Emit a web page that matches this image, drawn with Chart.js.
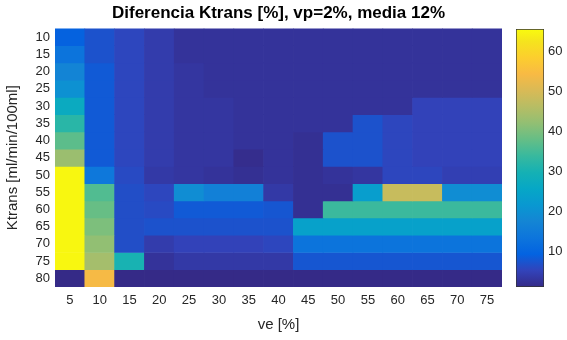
<!DOCTYPE html>
<html>
<head>
<meta charset="utf-8">
<script src="https://cdn.jsdelivr.net/npm/chart.js@4/dist/chart.umd.min.js"></script>
<style>
  body { margin: 0; background: #fff; }
  #wrap { position: relative; width: 567px; height: 340px; }
  #heat { position: absolute; left: 0; top: 0; }
  #bar { position: absolute; left: 510px; top: 0; }
</style>
</head>
<body>
<div id="wrap">
  <canvas id="heat" width="567" height="340"></canvas>
  <canvas id="bar" width="57" height="340"></canvas>
</div>
<script>
// Axis categories
const ve = [5, 10, 15, 20, 25, 30, 35, 40, 45, 50, 55, 60, 65, 70, 75];
const ktrans = [10, 15, 20, 25, 30, 35, 40, 45, 50, 55, 60, 65, 70, 75, 80];

// Difference in Ktrans [%], one row per Ktrans value (columns follow ve)
const diffKtrans = [
  [9, 7, 5.5, 4, 2.5, 2.5, 2.5, 2.5, 2.5, 2.5, 2.5, 2.5, 2.5, 2.5, 2.5],
  [13, 7, 5.5, 4, 2.5, 2.5, 2.5, 2.5, 2.5, 2.5, 2.5, 2.5, 2.5, 2.5, 2.5],
  [17, 8, 5.5, 4, 3, 2.5, 2.5, 2.5, 2.5, 2.5, 2.5, 2.5, 2.5, 2.5, 2.5],
  [20, 8, 5.5, 4, 3, 2.5, 2.5, 2.5, 2.5, 2.5, 2.5, 2.5, 2.5, 2.5, 2.5],
  [27, 8, 5.5, 4, 3, 3, 2.5, 2.5, 2.5, 2.5, 2.5, 2.5, 5, 5, 5],
  [32, 8, 5.5, 4, 3, 3, 2.5, 2.5, 2.5, 2.5, 7, 5.5, 5, 5, 5],
  [37, 8, 5.5, 4, 3, 3, 2.5, 2.5, 2, 7, 7, 5.5, 5, 5, 5],
  [43, 8, 5.5, 4, 3, 3, 1.5, 2.5, 2, 7, 7, 5.5, 5, 5, 5],
  [65, 14, 6, 3.5, 3, 2.5, 2, 2.5, 2, 2.5, 3, 5.5, 5.5, 4.5, 4.5],
  [65, 36, 6.5, 5.5, 19, 16, 16, 3.5, 2, 2, 23, 48, 48, 19, 19],
  [65, 38, 6.5, 6, 8, 8, 8, 7.5, 2, 34, 34, 34, 34, 34, 34],
  [65, 40, 6.5, 7, 7, 7, 7, 7, 24, 24, 24, 24, 24, 24, 24],
  [65, 42, 6.5, 4, 5, 5, 5, 5.5, 13, 13, 13, 13, 13, 13, 13],
  [65, 44, 30, 2.5, 3.5, 3.5, 3.5, 3.5, 7.5, 7.5, 7.5, 7.5, 7.5, 7.5, 7.5],
  [1, 54, 1, 1, 1, 1, 1, 1, 1, 1, 1, 1, 1, 1, 1]
];

const colorbarTicks = [10, 20, 30, 40, 50, 60];
const cMin = 1;
const cMax = 65.5;

// parula colormap, sampled every 4th entry of the 64-entry table
const parula = [
  [53, 42, 135], [50, 67, 186], [3, 99, 225], [13, 117, 220],
  [20, 133, 212], [9, 152, 209], [6, 167, 198], [21, 177, 180],
  [56, 185, 158], [101, 190, 134], [146, 191, 115], [183, 189, 100],
  [217, 186, 86], [248, 186, 68], [252, 206, 46], [245, 228, 29],
  [249, 251, 14]
];
const parulaPos = [0, 4, 8, 12, 16, 20, 24, 28, 32, 36, 40, 44, 48, 52, 56, 60, 63].map(i => i / 63);

const FONT = '"Liberation Sans", Arial, sans-serif';
const TEXT = '#262626';

function colorFor(v) {
  let t = (v - cMin) / (cMax - cMin);
  t = Math.max(0, Math.min(1, t));
  let i = 0;
  while (i < parulaPos.length - 2 && t > parulaPos[i + 1]) i++;
  const f = (t - parulaPos[i]) / (parulaPos[i + 1] - parulaPos[i]);
  const a = parula[i];
  const b = parula[i + 1];
  const c = a.map((x, k) => Math.round(x + (b[k] - x) * f));
  return `rgb(${c[0]},${c[1]},${c[2]})`;
}

// One floating-bar dataset per Ktrans row
const datasets = ktrans.map((k, j) => ({
  data: ve.map(() => [k - 2.5, k + 2.5]),
  backgroundColor: diffKtrans[j].map(colorFor),
  borderWidth: 0,
  grouped: false,
  barPercentage: 1,
  categoryPercentage: 1
}));

new Chart(document.getElementById('heat'), {
  type: 'bar',
  data: { labels: ve, datasets: datasets },
  options: {
    responsive: false,
    animation: false,
    devicePixelRatio: 1,
    layout: { padding: { left: 0, right: 65, top: 0, bottom: 0 } },
    plugins: {
      legend: { display: false },
      tooltip: { enabled: false },
      title: {
        display: true,
        fullSize: false,
        text: 'Diferencia Ktrans [%], vp=2%, media 12%',
        color: '#000',
        font: { family: FONT, size: 17, weight: 'bold' },
        padding: { top: 3, bottom: 5 }
      }
    },
    scales: {
      x: {
        grid: { display: false, drawTicks: false },
        border: { display: false },
        ticks: { color: TEXT, font: { family: FONT, size: 13 }, padding: 6, maxRotation: 0, autoSkip: false },
        title: { display: true, text: 've [%]', color: TEXT, font: { family: FONT, size: 15 }, padding: { top: 4, bottom: 6 } },
        afterFit: (axis) => { axis.height = 53; }
      },
      y: {
        type: 'linear',
        reverse: true,
        min: 7.5,
        max: 82.5,
        afterBuildTicks: (axis) => { axis.ticks = ktrans.map(v => ({ value: v })); },
        grid: { display: false, drawTicks: false },
        border: { display: false },
        ticks: { color: TEXT, font: { family: FONT, size: 13 }, padding: 5, autoSkip: false },
        title: { display: true, text: 'Ktrans [ml/min/100ml]', color: TEXT, font: { family: FONT, size: 15 }, padding: { top: 4, bottom: 4 } },
        afterFit: (axis) => { axis.width = 55; }
      }
    }
  }
});

// Colorbar
function barGradient(ctx) {
  const chart = ctx.chart;
  if (!chart.chartArea) return 'rgb(53,42,135)';
  const y = chart.scales.y;
  const g = chart.ctx.createLinearGradient(0, y.getPixelForValue(cMin), 0, y.getPixelForValue(cMax));
  parula.forEach((c, i) => g.addColorStop(parulaPos[i], `rgb(${c[0]},${c[1]},${c[2]})`));
  return g;
}

new Chart(document.getElementById('bar'), {
  type: 'bar',
  data: {
    labels: [''],
    datasets: [{
      data: [[cMin, cMax]],
      backgroundColor: barGradient,
      borderColor: '#333',
      borderWidth: 1,
      borderSkipped: false,
      barPercentage: 1,
      categoryPercentage: 1
    }]
  },
  options: {
    responsive: false,
    animation: false,
    devicePixelRatio: 1,
    layout: { padding: { left: 6, right: 0, top: 29, bottom: 53 } },
    plugins: { legend: { display: false }, tooltip: { enabled: false } },
    scales: {
      x: { display: false, offset: true },
      y: {
        position: 'right',
        min: cMin,
        max: cMax,
        afterBuildTicks: (axis) => { axis.ticks = colorbarTicks.map(v => ({ value: v })); },
        grid: { display: false, drawTicks: false },
        border: { display: false },
        ticks: { color: TEXT, font: { family: FONT, size: 13 }, padding: 4 },
        afterFit: (axis) => { axis.width = 23; }
      }
    }
  }
});
</script>
</body>
</html>
